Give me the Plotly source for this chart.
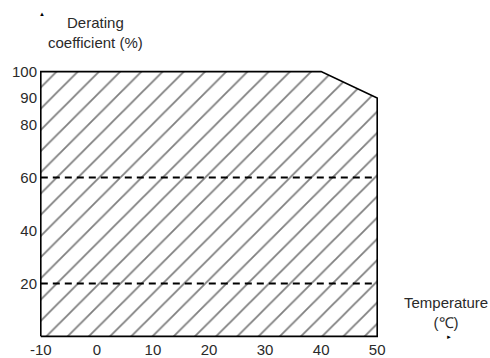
import plotly.graph_objects as go

# derating envelope (temperature in C, coefficient in %)
temp_c = [-10, -10, 40, 50, 50, -10]
derating_pct = [0, 100, 100, 90, 0, 0]

# dashed reference levels
ref_levels = [60, 20]
ref_x = [-10, 50]

x_ticks = [-10, 0, 10, 20, 30, 40, 50]
x_labels = ["-10", "0", "10", "20", "30", "40", "50"]
y_ticks = [20, 40, 60, 80, 90, 100]

FONT = "Liberation Sans, Arial, sans-serif"
TEXT = "#2a2a2a"
INK = "#000000"

fig = go.Figure()
fig.add_trace(
    go.Scatter(
        x=temp_c,
        y=derating_pct,
        mode="lines",
        fill="toself",
        fillcolor="rgba(0,0,0,0)",
        fillpattern={
            "shape": "/",
            "size": 15,
            "solidity": 0.12,
            "fgcolor": INK,
            "bgcolor": "white",
        },
        line={"color": INK, "width": 1.6},
        hoverinfo="skip",
        showlegend=False,
    )
)
for level in ref_levels:
    fig.add_trace(
        go.Scatter(
            x=ref_x,
            y=[level, level],
            mode="lines",
            line={"color": INK, "width": 2, "dash": "7px,5px"},
            hoverinfo="skip",
            showlegend=False,
        )
    )

fig.update_layout(
    width=490,
    height=358,
    margin={"l": 38, "r": 110, "t": 69, "b": 19, "pad": 0},
    paper_bgcolor="white",
    plot_bgcolor="white",
    font={"family": FONT, "size": 15, "color": TEXT},
    xaxis={
        "range": [-10.5, 50.5],
        "tickvals": x_ticks,
        "ticktext": x_labels,
        "showgrid": False,
        "zeroline": False,
        "showline": False,
        "ticks": "",
        "automargin": False,
    },
    yaxis={
        "range": [-1, 101],
        "tickvals": y_ticks,
        "showgrid": False,
        "zeroline": False,
        "showline": False,
        "ticks": "",
        "automargin": False,
    },
)

# axis titles, placed in paper coords
common = dict(xref="paper", yref="paper", showarrow=False,
              xanchor="center", yanchor="middle")
fig.add_annotation(x=0.167, y=1.137, text="Derating<br>coefficient (%)", **common)
fig.add_annotation(x=1.193, y=0.098, text="Temperature<br>(℃)", **common)
# little axis arrow heads
fig.add_annotation(x=0.012, y=1.204, text="▲", font={"size": 6, "color": INK}, **common)
fig.add_annotation(x=1.202, y=0.007, text="►", font={"size": 6, "color": INK}, **common)

fig.write_html(
    "out.html",
    config={"displayModeBar": False},
    post_script="document.body.style.margin='0';",
)
